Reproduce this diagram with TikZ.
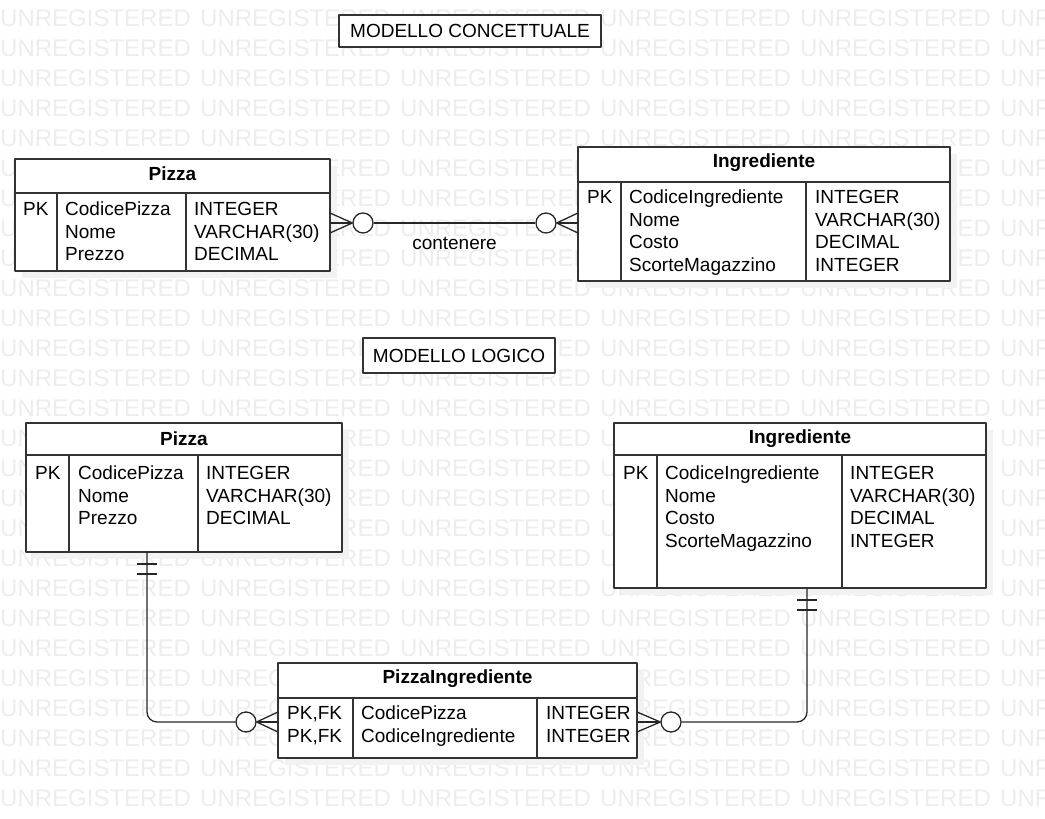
\documentclass[tikz,border=0pt]{standalone}
\usepackage{fontspec}
\setmainfont{Liberation Sans}
\begin{document}
\begin{tikzpicture}[x=1bp,y=1bp,line join=bevel,
  wmark/.style={anchor=west,inner sep=0pt,text=black!7,font=\fontsize{24bp}{28bp}\selectfont},
  entity/.style={draw=black!80,line width=1.3bp,fill=white,inner sep=0pt},
  shadow/.style={fill=black!5,draw=none,inner sep=0pt},
  titlebox/.style={draw=black!80,line width=1.3bp,fill=white,font=\fontsize{19bp}{22.5bp}\selectfont},
  head/.style={inner sep=0pt,font=\bfseries\fontsize{19bp}{22.5bp}\selectfont},
  col/.style={anchor=north west,align=left,inner sep=0pt,font=\fontsize{19bp}{22.5bp}\selectfont},
  sep/.style={draw=black!80,line width=1.3bp},
  rel/.style={draw=black!85,line width=1.3bp},
  ring/.style={circle,draw=black!85,line width=1.3bp,fill=white,minimum size=20bp,inner sep=0pt},
]
\useasboundingbox (0,0) rectangle (1045,819);
%%
\foreach \r in {0,...,26}
  \foreach \c in {0,...,5}
    \node[wmark] at (200*\c,801-30*\r) {UNREGISTERED};
%
\node (title_c) at (470bp,788bp) [titlebox,minimum width=262bp,minimum height=32bp] {MODELLO CONCETTUALE};
\node (title_l) at (459bp,463.5bp) [titlebox,minimum width=192bp,minimum height=35bp] {MODELLO LOGICO};
%
\node (pizza_c_sh) at (179.5bp,597bp) [shadow,minimum width=315bp,minimum height=112bp] {};
\node (ingr_c_sh) at (771bp,598bp) [shadow,minimum width=372bp,minimum height=134bp] {};
\node (pizza_l_sh) at (191bp,324.5bp) [shadow,minimum width=316bp,minimum height=129bp] {};
\node (ingr_l_sh) at (807bp,306.5bp) [shadow,minimum width=372bp,minimum height=165bp] {};
\node (pi_l_sh) at (464.5bp,101.5bp) [shadow,minimum width=359bp,minimum height=95bp] {};
%
\node (pizza_c) at (172.5bp,604bp) [entity,minimum width=315bp,minimum height=112bp] {};
\node (pizza_c_h) at (172.5bp,645bp) [head] {Pizza};
\draw [sep] (15bp,626bp) -- (330bp,626bp);
\draw [sep] (57bp,626bp) -- (57bp,548bp);
\draw [sep] (186bp,626bp) -- (186bp,548bp);
\node (pizza_c_k) at (23bp,619bp) [col] {\strut PK};
\node (pizza_c_n) at (65bp,619bp) [col] {\strut CodicePizza\\Nome\\Prezzo};
\node (pizza_c_t) at (194bp,619bp) [col] {\strut INTEGER\\VARCHAR(30)\\DECIMAL};
%
\node (ingr_c) at (764bp,605bp) [entity,minimum width=372bp,minimum height=134bp] {};
\node (ingr_c_h) at (764bp,656bp) [head] {Ingrediente};
\draw [sep] (578bp,637bp) -- (950bp,637bp);
\draw [sep] (621bp,637bp) -- (621bp,538bp);
\draw [sep] (806bp,637bp) -- (806bp,538bp);
\node (ingr_c_k) at (587bp,631bp) [col] {\strut PK};
\node (ingr_c_n) at (629bp,631bp) [col] {\strut CodiceIngrediente\\Nome\\Costo\\ScorteMagazzino};
\node (ingr_c_t) at (815bp,631bp) [col] {\strut INTEGER\\VARCHAR(30)\\DECIMAL\\INTEGER};
%
\node (ring_a) at (363bp,596bp) [ring] {};
\node (ring_b) at (546bp,596bp) [ring] {};
\draw [rel] (ring_a) -- (ring_b) node [midway,below=14bp,inner sep=0pt,font=\fontsize{19bp}{22.5bp}\selectfont] (rel_c) {contenere};
\draw [rel] (330bp,606bp) -- (ring_a.west) -- (330bp,586bp);
\draw [rel] (330bp,596bp) -- (ring_a.west);
\draw [rel] (578bp,606bp) -- (ring_b.east) -- (578bp,586bp);
\draw [rel] (578bp,596bp) -- (ring_b.east);
%
\node (pizza_l) at (184bp,331.5bp) [entity,minimum width=316bp,minimum height=129bp] {};
\node (pizza_l_h) at (184bp,380bp) [head] {Pizza};
\draw [sep] (26bp,364bp) -- (342bp,364bp);
\draw [sep] (69bp,364bp) -- (69bp,267bp);
\draw [sep] (198bp,364bp) -- (198bp,267bp);
\node (pizza_l_k) at (35bp,355bp) [col] {\strut PK};
\node (pizza_l_n) at (78bp,355bp) [col] {\strut CodicePizza\\Nome\\Prezzo};
\node (pizza_l_t) at (206bp,355bp) [col] {\strut INTEGER\\VARCHAR(30)\\DECIMAL};
%
\node (ingr_l) at (800bp,313.5bp) [entity,minimum width=372bp,minimum height=165bp] {};
\node (ingr_l_h) at (800bp,380bp) [head] {Ingrediente};
\draw [sep] (614bp,364bp) -- (986bp,364bp);
\draw [sep] (657bp,364bp) -- (657bp,231bp);
\draw [sep] (842bp,364bp) -- (842bp,231bp);
\node (ingr_l_k) at (623bp,355bp) [col] {\strut PK};
\node (ingr_l_n) at (665bp,355bp) [col] {\strut CodiceIngrediente\\Nome\\Costo\\ScorteMagazzino};
\node (ingr_l_t) at (850bp,355bp) [col] {\strut INTEGER\\VARCHAR(30)\\DECIMAL\\INTEGER};
%
\node (pi_l) at (457.5bp,108.5bp) [entity,minimum width=359bp,minimum height=95bp] {};
\node (pi_l_h) at (457.5bp,140bp) [head] {PizzaIngrediente};
\draw [sep] (278bp,121bp) -- (637bp,121bp);
\draw [sep] (353bp,121bp) -- (353bp,61bp);
\draw [sep] (537bp,121bp) -- (537bp,61bp);
\node (pi_l_k) at (287bp,115bp) [col] {\strut PK,FK\\PK,FK};
\node (pi_l_n) at (361bp,115bp) [col] {\strut CodicePizza\\CodiceIngrediente};
\node (pi_l_t) at (546bp,115bp) [col] {\strut INTEGER\\INTEGER};
%
\coordinate (fk_a) at (147bp,267bp);
\coordinate (fk_b) at (807bp,231bp);
\node (ring_c) at (246bp,97bp) [ring] {};
\node (ring_d) at (671bp,97bp) [ring] {};
\draw [rel,rounded corners=10bp] (fk_a) -- (fk_a |- ring_c) -- (ring_c.west);
\draw [rel,rounded corners=10bp] (fk_b) -- (fk_b |- ring_d) -- (ring_d.east);
\draw [rel] (137bp,255bp) -- (157bp,255bp);
\draw [rel] (137bp,245bp) -- (157bp,245bp);
\draw [rel] (797bp,219bp) -- (817bp,219bp);
\draw [rel] (797bp,209bp) -- (817bp,209bp);
\draw [rel] (278bp,107bp) -- (ring_c.east) -- (278bp,87bp);
\draw [rel] (278bp,97bp) -- (ring_c.east);
\draw [rel] (637bp,107bp) -- (ring_d.west) -- (637bp,87bp);
\draw [rel] (637bp,97bp) -- (ring_d.west);
%
\end{tikzpicture}
\end{document}
